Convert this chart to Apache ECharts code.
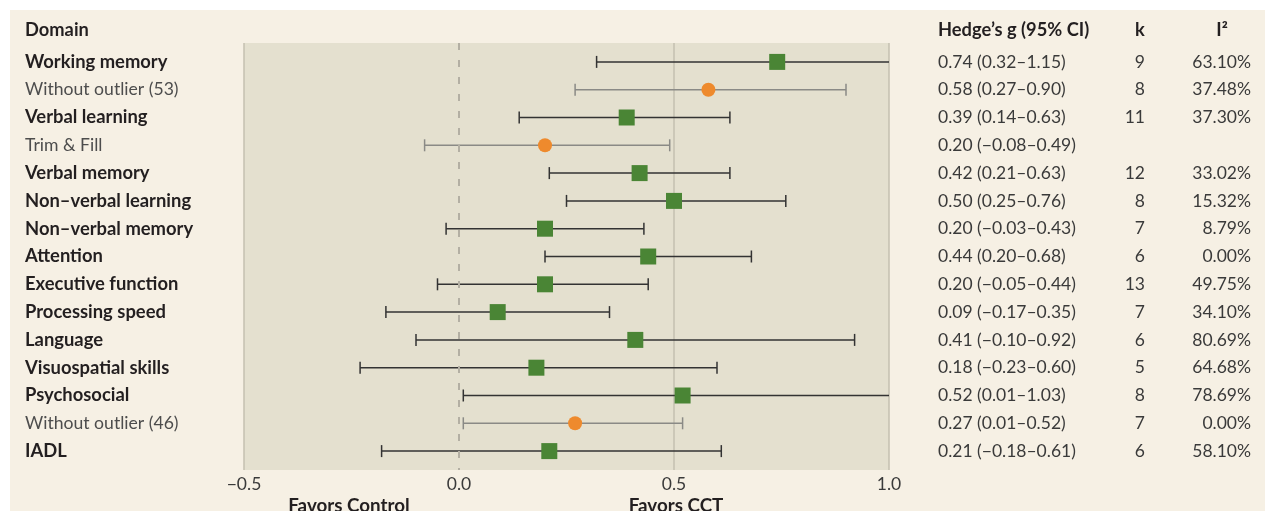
<!DOCTYPE html>
<html>
<head>
<meta charset="utf-8">
<script src="https://cdn.jsdelivr.net/npm/echarts@6/dist/echarts.min.js"></script>
<style>
html,body{margin:0;padding:0;background:#fff;}
#chart{width:1265px;height:511px;}
</style>
</head>
<body>
<div id="chart"></div>
<script>
// ---- data ----
const domains = ['Working memory','Without outlier (53)','Verbal learning','Trim & Fill','Verbal memory',
  'Non\u2013verbal learning','Non\u2013verbal memory','Attention','Executive function','Processing speed',
  'Language','Visuospatial skills','Psychosocial','Without outlier (46)','IADL'];
const isSub = [0,1,0,1,0,0,0,0,0,0,0,0,0,1,0];
const estimates = [0.74,0.58,0.39,0.20,0.42,0.50,0.20,0.44,0.20,0.09,0.41,0.18,0.52,0.27,0.21];
const lowerCI  = [0.32,0.27,0.14,-0.08,0.21,0.25,-0.03,0.20,-0.05,-0.17,-0.10,-0.23,0.01,0.01,-0.18];
const upperCI  = [1.15,0.90,0.63,0.49,0.63,0.76,0.43,0.68,0.44,0.35,0.92,0.60,1.03,0.52,0.61];
const kValues  = ['9','8','11','','12','8','7','6','13','7','6','5','8','7','6'];
const i2Values = ['63.10%','37.48%','37.30%','','33.02%','15.32%','8.79%','0.00%','49.75%','34.10%','80.69%','64.68%','78.69%','0.00%','58.10%'];
const xTicks = [-0.5, 0, 0.5, 1.0];

const X_MIN = -0.5, X_MAX = 1.0;
const FONT = 'Lato';
const fmt = v => (v < 0 ? '\u2212' : '') + Math.abs(v).toFixed(2);
const fmtTick = v => (v < 0 ? '\u2212' : '') + Math.abs(v).toFixed(1);

const chart = echarts.init(document.getElementById('chart'), null, {renderer:'canvas'});

const errData = domains.map((d,i)=>[i, lowerCI[i], upperCI[i], isSub[i]]);
const mainPts = [], subPts = [];
estimates.forEach((v,i)=>{ (isSub[i] ? subPts : mainPts).push([v,i]); });
const textData = domains.map((d,i)=>[0,i]);

const HEAD = 'bold 18.3px ' + FONT;
const option = {
  backgroundColor: '#f6f0e4',
  animation: false,
  grid: {left:244, right:376, top:43, bottom:41, show:true, backgroundColor:'#e4e0cf', borderWidth:0, containLabel:false},
  xAxis: {
    type:'value', min:X_MIN, max:X_MAX, interval:0.5,
    axisLine:{show:false}, axisTick:{show:false},
    axisLabel:{color:'#3a3a3a', fontFamily:FONT, fontSize:17.5, margin:5, formatter: v=>fmtTick(v)},
    splitLine:{show:true, lineStyle:{color:['#c4c0b1','rgba(0,0,0,0)','#c4c0b1','#c4c0b1'], width:1.5}}
  },
  yAxis: {type:'value', inverse:true, min:-0.68, max:14.68, show:false},
  graphic: [
    {type:'rect', shape:{x:0,y:0,width:1265,height:10}, style:{fill:'#fff'}, silent:true},
    {type:'rect', shape:{x:0,y:0,width:10,height:511}, style:{fill:'#fff'}, silent:true},
    {type:'text', x:25, y:30, style:{text:'Domain', font:HEAD, fill:'#231f20', textVerticalAlign:'middle'}},
    {type:'text', x:938, y:30, style:{text:'Hedge\u2019s g (95% CI)', font:HEAD, fill:'#231f20', textVerticalAlign:'middle'}},
    {type:'text', x:1140, y:30, style:{text:'k', font:HEAD, fill:'#231f20', textAlign:'center', textVerticalAlign:'middle'}},
    {type:'text', x:1222, y:30, style:{text:'I\u00b2', font:HEAD, fill:'#231f20', textAlign:'center', textVerticalAlign:'middle'}},
    {type:'text', x:349, y:506, style:{text:'Favors Control', font:'bold 18.8px '+FONT, fill:'#231f20', textAlign:'center', textVerticalAlign:'middle'}},
    {type:'text', x:676, y:506, style:{text:'Favors CCT', font:'bold 18.8px '+FONT, fill:'#231f20', textAlign:'center', textVerticalAlign:'middle'}}
  ],
  series: [
    {
      type:'line', data:[], z:1, silent:true,
      markLine:{symbol:'none', silent:true, label:{show:false},
        lineStyle:{type:[7,10], color:'#b3afa3', width:2}, data:[{xAxis:0}]}
    },
    {
      type:'custom', z:2, clip:false, silent:true,
      data: errData,
      encode:{x:[1,2], y:0},
      renderItem:(params, api)=>{
        const i = api.value(0), lo = api.value(1), hi = api.value(2), sub = api.value(3);
        const loC = Math.max(lo, X_MIN), hiC = Math.min(hi, X_MAX);
        const p1 = api.coord([loC, i]), p2 = api.coord([hiC, i]);
        const col = sub ? '#8a8a86' : '#333333';
        const st = {stroke:col, lineWidth:1.5};
        const ch = [{type:'line', shape:{x1:p1[0], y1:p1[1], x2:p2[0], y2:p2[1]}, style:st}];
        const h = 6;
        if (lo >= X_MIN) ch.push({type:'line', shape:{x1:p1[0], y1:p1[1]-h, x2:p1[0], y2:p1[1]+h}, style:st});
        if (hi <= X_MAX) ch.push({type:'line', shape:{x1:p2[0], y1:p2[1]-h, x2:p2[0], y2:p2[1]+h}, style:st});
        return {type:'group', children:ch};
      }
    },
    {type:'scatter', z:3, symbol:'rect', symbolSize:16, data:mainPts, itemStyle:{color:'#4a8535', opacity:1}, silent:true},
    {type:'scatter', z:3, symbol:'circle', symbolSize:14, data:subPts, itemStyle:{color:'#ee8a2d', opacity:1}, silent:true},
    {
      type:'custom', z:4, clip:false, silent:true,
      data: textData,
      encode:{x:0, y:1},
      renderItem:(params, api)=>{
        const i = api.value(1);
        const y = api.coord([0, i])[1];
        const sub = isSub[i];
        const ci = estimates[i].toFixed(2) + ' (' + fmt(lowerCI[i]) + '\u2013' + fmt(upperCI[i]) + ')';
        return {type:'group', children:[
          {type:'text', x:25, y:y, style:{text:domains[i], font:(sub?'17.6px ':'bold 18.4px ')+FONT, fill: sub ? '#4d4d4d' : '#231f20', textVerticalAlign:'middle'}},
          {type:'text', x:938, y:y, style:{text:ci, font:'17.5px '+FONT, fill:'#3a3a3a', textVerticalAlign:'middle'}},
          {type:'text', x:1145, y:y, style:{text:kValues[i], font:'17.5px '+FONT, fill:'#3a3a3a', textAlign:'right', textVerticalAlign:'middle'}},
          {type:'text', x:1251, y:y, style:{text:i2Values[i], font:'17.5px '+FONT, fill:'#3a3a3a', textAlign:'right', textVerticalAlign:'middle'}}
        ]};
      }
    }
  ]
};
chart.setOption(option);
</script>
</body>
</html>
